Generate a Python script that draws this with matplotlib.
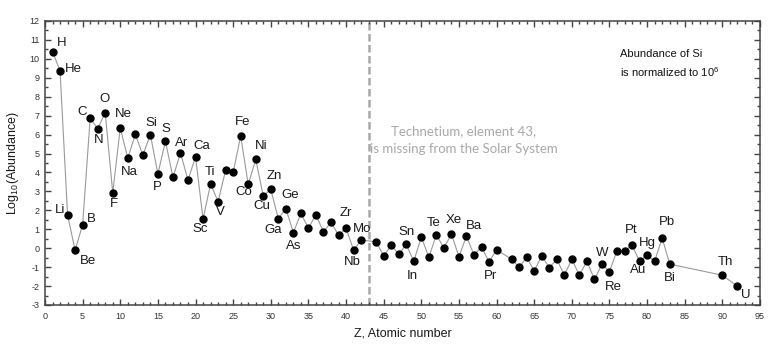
import numpy as np
import matplotlib
matplotlib.use("Agg")
import matplotlib.pyplot as plt
from matplotlib.ticker import MultipleLocator

plt.rcParams['font.family'] = ['Liberation Sans', 'DejaVu Sans']
plt.rcParams['mathtext.fontset'] = 'custom'
plt.rcParams['mathtext.rm'] = 'Liberation Sans'
plt.rcParams['mathtext.it'] = 'Liberation Sans'
plt.rcParams['axes.unicode_minus'] = False

# solar system abundances, log10 scale with Si = 10^6
z = [1, 2, 3, 4, 5, 6, 7, 8, 9, 10, 11, 12, 13, 14, 15, 16, 17, 18, 19, 20,
     21, 22, 23, 24, 25, 26, 27, 28, 29, 30, 31, 32, 33, 34, 35, 36, 37, 38, 39, 40,
     41, 42, 44, 45, 46, 47, 48, 49, 50, 51, 52, 53, 54, 55, 56, 57, 58, 59, 60,
     62, 63, 64, 65, 66, 67, 68, 69, 70, 71, 72, 73, 74, 75, 76, 77, 78, 79, 80,
     81, 82, 83, 90, 92]
symbols = ["H", "He", "Li", "Be", "B", "C", "N", "O", "F", "Ne", "Na", "Mg", "Al", "Si",
           "P", "S", "Cl", "Ar", "K", "Ca", "Sc", "Ti", "V", "Cr", "Mn", "Fe", "Co", "Ni",
           "Cu", "Zn", "Ga", "Ge", "As", "Se", "Br", "Kr", "Rb", "Sr", "Y", "Zr", "Nb", "Mo",
           "Ru", "Rh", "Pd", "Ag", "Cd", "In", "Sn", "Sb", "Te", "I", "Xe", "Cs", "Ba", "La",
           "Ce", "Pr", "Nd", "Sm", "Eu", "Gd", "Tb", "Dy", "Ho", "Er", "Tm", "Yb", "Lu", "Hf",
           "Ta", "W", "Re", "Os", "Ir", "Pt", "Au", "Hg", "Tl", "Pb", "Bi", "Th", "U"]
log_abund = [10.38, 9.37, 1.75, -0.11, 1.24, 6.86, 6.31, 7.16, 2.93, 6.35, 4.76, 6.01,
             4.92, 6.00, 3.92, 5.66, 3.74, 5.03, 3.60, 4.83, 1.54, 3.39, 2.46, 4.13, 4.00,
             5.93, 3.37, 4.69, 2.76, 3.11, 1.56, 2.09, 0.82, 1.84, 1.06, 1.77, 0.85, 1.38,
             0.68, 1.06, -0.10, 0.43, 0.34, -0.41, 0.15, -0.31, 0.20, -0.69, 0.59, -0.47,
             0.71, 0.01, 0.75, -0.45, 0.64, -0.36, 0.08, -0.73, -0.08, -0.59, -1.01, -0.47,
             -1.21, -0.40, -1.03, -0.59, -1.42, -0.59, -1.43, -0.69, -1.65, -0.85, -1.24,
             -0.13, -0.13, 0.15, -0.69, -0.36, -0.69, 0.54, -0.84, -1.43, -2.01]

# which elements get a name, and where the name sits (pixels from the dot)
label_offsets = {
    "H": (9, 9), "He": (13, 2), "Li": (-8, 5), "Be": (13, -11), "B": (9, 6),
    "C": (-8, 6), "N": (1, -11), "O": (-1, 14), "F": (1, -11), "Ne": (3, 14),
    "Na": (2, -14), "Si": (1, 12), "P": (-1, -13), "S": (0, 12), "Ar": (1, 10),
    "Ca": (6, 11), "Sc": (-3, -10), "Ti": (-1, 12), "V": (2, -10), "Fe": (2, 14),
    "Co": (-4, -8), "Ni": (5, 13), "Cu": (-1, -10), "Zn": (4, 13), "Ga": (-5, -11),
    "Ge": (4, 14), "As": (0, -13), "Zr": (0, 15), "Nb": (-1, -12), "Mo": (1, 11),
    "Sn": (-15, 5), "In": (-1, -15), "Te": (-3, 12), "Xe": (2, 14), "Ba": (7, 10),
    "Pr": (1, -14), "W": (0, 11), "Re": (4, -15), "Pt": (-1, 15), "Au": (-1, -9),
    "Hg": (0, 12), "Pb": (5, 16), "Bi": (0, -14), "Th": (3, 13), "U": (8, -9),
}

tc_z = 43

fig = plt.figure(figsize=(7.8, 3.47), dpi=100)
ax = fig.add_axes([45 / 780, 1 - 305 / 347, 715 / 780, 284 / 347])

ax.axvline(tc_z, color="#a8a8a8", lw=1.8, dashes=(3.0, 1.4), zorder=1)
ax.plot(z, log_abund, color="#9a9a9a", lw=0.8, zorder=2)
ax.plot(z, log_abund, "o", color="black", ms=5, zorder=3)

for zi, sym, val in zip(z, symbols, log_abund):
    if sym in label_offsets:
        ax.annotate(sym, (zi, val), xytext=label_offsets[sym], textcoords="offset pixels",
                    ha="center", va="center", fontsize=9.5, color="#1a1a1a")

# notes placed in figure pixels
ax.text(464, 347 - 140, "Technetium, element 43,\nis missing from the Solar System",
        transform=None, fontsize=9.5, family=["Lato", "DejaVu Sans"],
        color="#a8a8a8", ha="center", va="center", linespacing=1.6)
ax.text(620, 347 - 64, "Abundance of Si\nis normalized to 10$^6$",
        transform=None, fontsize=8, color="#111111", ha="left", va="center",
        linespacing=1.6)

ax.set_xlim(0, 95)
ax.set_ylim(-3, 12)
ax.xaxis.set_major_locator(MultipleLocator(5))
ax.xaxis.set_minor_locator(MultipleLocator(1))
ax.yaxis.set_major_locator(MultipleLocator(1))
ax.yaxis.set_minor_locator(MultipleLocator(0.5))
ax.tick_params(which="both", direction="in", top=True, right=True,
               labelsize=6.5, colors="#444444", labelcolor="#333333", width=1)
ax.tick_params(which="major", length=4)
ax.tick_params(which="minor", length=2)
ax.tick_params(axis="x", pad=5)
ax.tick_params(axis="y", pad=4)
for sp in ax.spines.values():
    sp.set_linewidth(1.1)
    sp.set_color("#444444")

ax.set_xlabel("Z, Atomic number", fontsize=9, color="#1a1a1a")
ax.set_ylabel("Log$_{10}$(Abundance)", fontsize=9, color="#1a1a1a")
ax.xaxis.set_label_coords(0.5, -0.078)
ax.yaxis.set_label_coords(-0.034, 0.5)

plt.savefig("out.png", dpi=100)
